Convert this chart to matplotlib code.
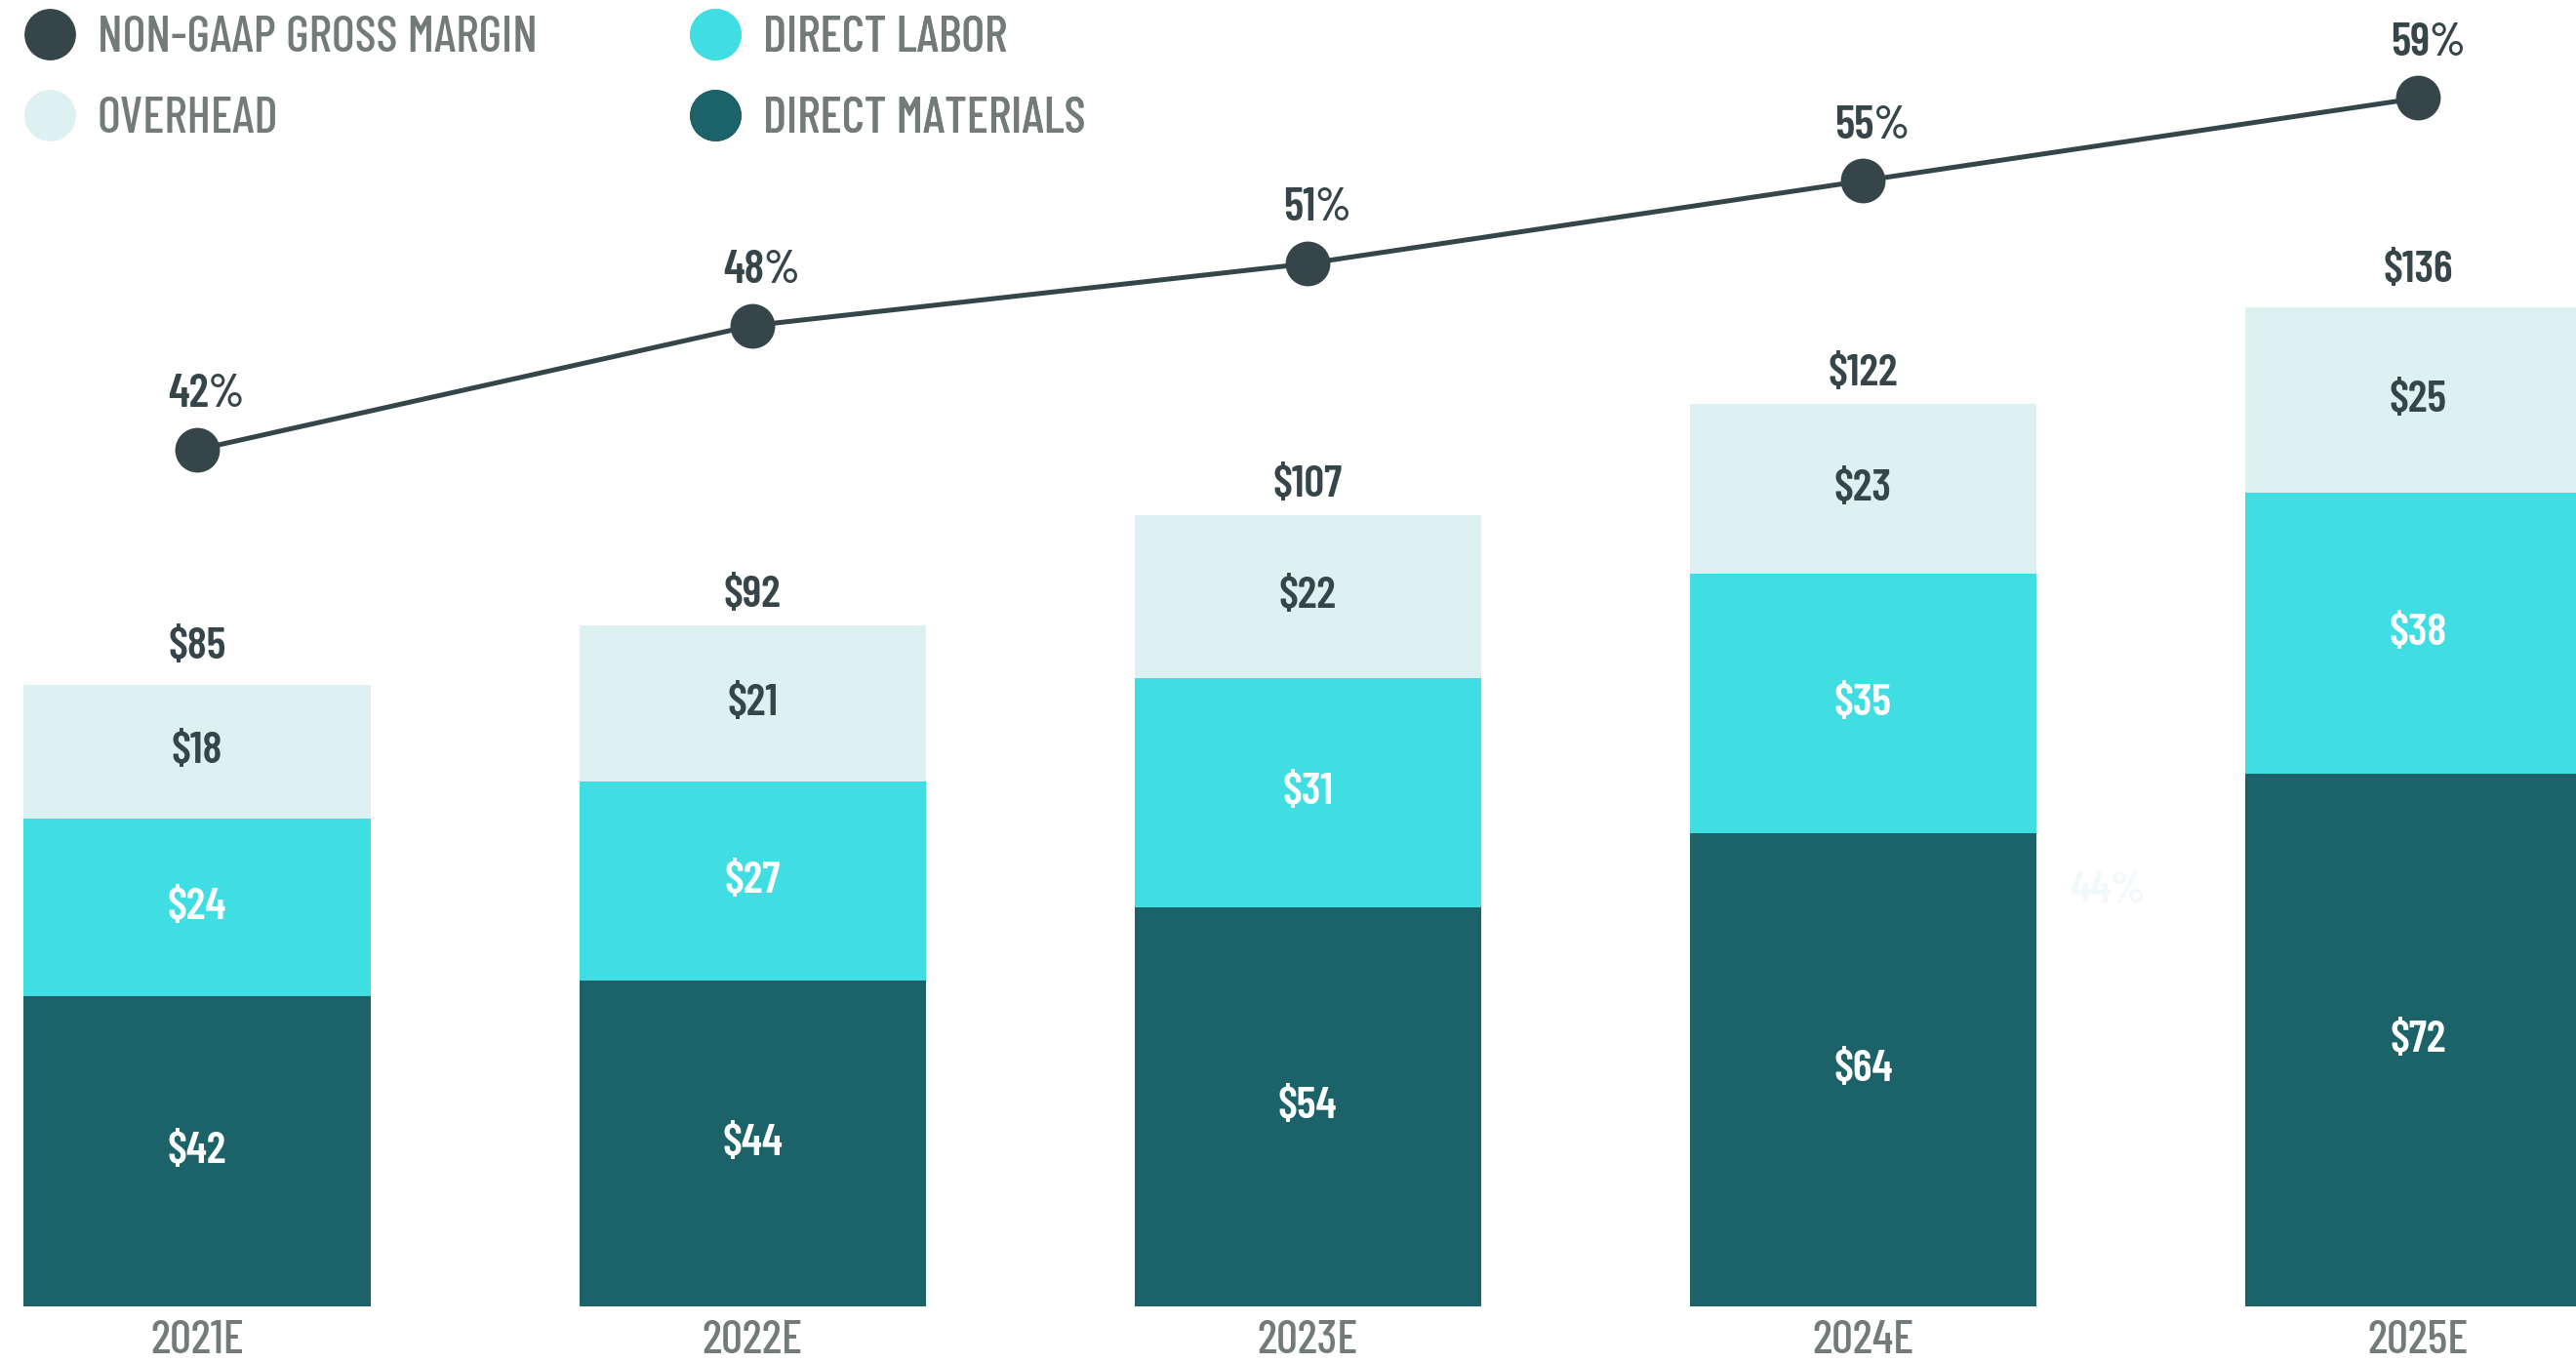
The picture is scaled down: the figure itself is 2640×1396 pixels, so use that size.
import matplotlib as mpl; mpl.use('Agg')
import matplotlib.pyplot as plt
from matplotlib.lines import Line2D
import numpy as np

plt.rcParams['font.family'] = ['Barlow Condensed', 'Roboto Condensed', 'Saira ExtraCondensed', 'DejaVu Sans']

years = ['2021E', '2022E', '2023E', '2024E', '2025E']
materials = [42, 44, 54, 64, 72]
labor = [24, 27, 31, 35, 38]
overhead = [18, 21, 22, 23, 25]
totals = [85, 92, 107, 122, 136]
margin = [42, 48, 51, 55, 59]

DARK = '#36454a'; CYAN = '#40dde2'; PALE = '#ddf0f2'; TEAL = '#1b6269'; GRAY = '#737b79'
VAL = dict(fontsize=33, fontweight='semibold')

fig = plt.figure(figsize=(26.4, 13.96), dpi=100)
ax = fig.add_axes([0, 0.0408, 1, 0.9592])
x = np.arange(len(years))
w = 0.624

ax.bar(x, materials, w, color=TEAL, zorder=2)
ax.bar(x, labor, w, bottom=materials, color=CYAN, zorder=2)
bot2 = np.add(materials, labor)
ax.bar(x, overhead, w, bottom=bot2, color=PALE, zorder=2)

for i in range(len(years)):
    ax.text(x[i], materials[i] / 2, f'${materials[i]}', ha='center', va='center', color='white', **VAL)
    ax.text(x[i], materials[i] + labor[i] / 2, f'${labor[i]}', ha='center', va='center', color='white', **VAL)
    ax.text(x[i], bot2[i] + overhead[i] / 2, f'${overhead[i]}', ha='center', va='center', color=DARK, **VAL)
    ax.annotate(f'${totals[i]}', (x[i], totals[i]), xytext=(0, 8), textcoords='offset points',
                ha='center', va='bottom', color=DARK, **VAL)

# faint leftover label in the source artwork
ax.text(3.44, 56.2, '44%', ha='center', va='center', color='#f1f9fa', **VAL)

ax.set_xlim(-0.355, 4.284)
ax.set_ylim(0, 176.6)
ax.set_xticks(x)
ax.set_xticklabels(years, fontsize=35, color=GRAY, fontweight='medium')
ax.tick_params(axis='x', length=0, pad=10)
ax.set_yticks([])
for s in ax.spines.values():
    s.set_visible(False)

ax2 = ax.twinx()
ax2.plot(x, margin, '-o', color=DARK, lw=3.6, ms=32, zorder=5)
for i in range(len(years)):
    ax2.annotate(f'{margin[i]}%', (x[i], margin[i]), xytext=(7, 25), textcoords='offset points',
                 ha='center', va='bottom', color=DARK, fontsize=34, fontweight='semibold')
ax2.set_ylim(0.58, 63.74)
ax2.set_yticks([])
for s in ax2.spines.values():
    s.set_visible(False)

# legend: two columns, each its own legend so the column positions are fixed
cols = [(['NON-GAAP GROSS MARGIN', 'OVERHEAD'], [DARK, PALE], 0.0125),
        (['DIRECT LABOR', 'DIRECT MATERIALS'], [CYAN, TEAL], 0.271)]
for labels, colors, x0 in cols:
    hs = [Line2D([], [], ls='', marker='o', ms=37, color=c) for c in colors]
    leg = ax2.legend(hs, labels, loc='upper left', bbox_to_anchor=(x0, 0.988), frameon=False,
                     prop=dict(size=37, weight='medium'), handlelength=0.7, handletextpad=0.6,
                     labelspacing=0.7, borderaxespad=0, borderpad=0)
    for t in leg.get_texts():
        t.set_color(GRAY)
    ax2.add_artist(leg)

fig.savefig('out.png', dpi=100)
